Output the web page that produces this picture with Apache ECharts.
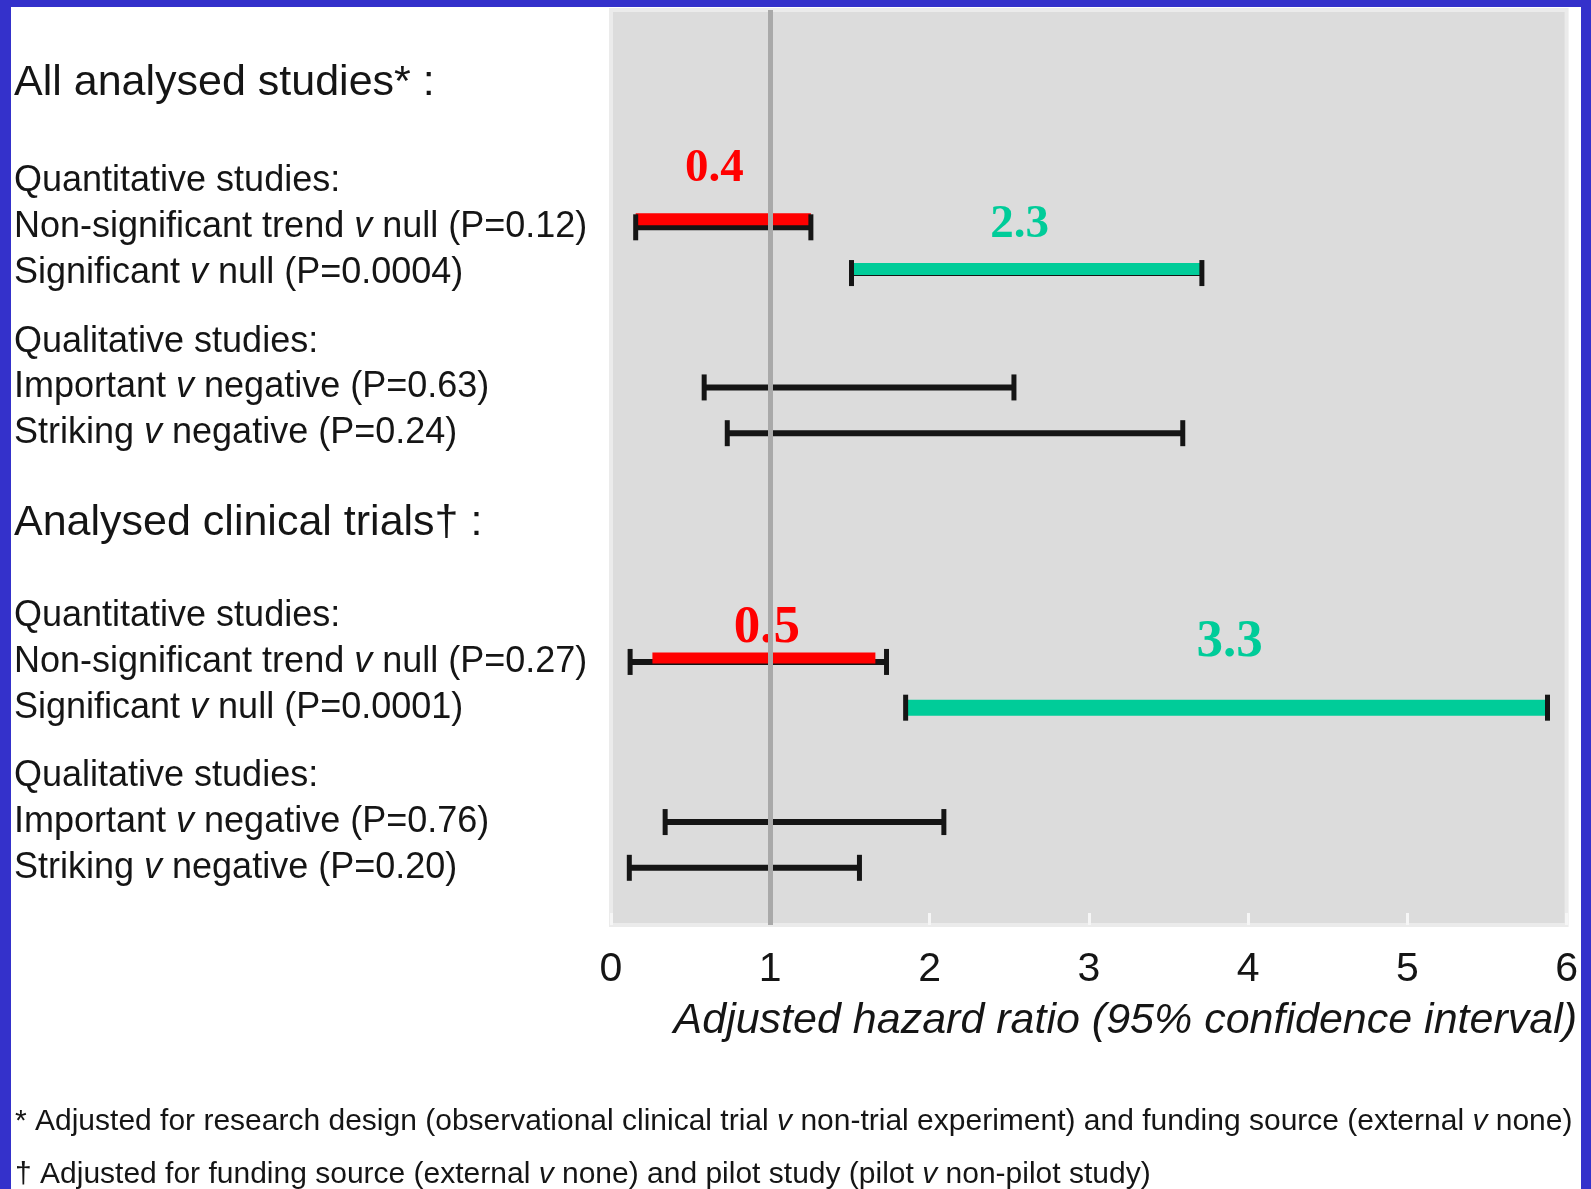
<!DOCTYPE html>
<html>
<head>
<meta charset="utf-8">
<script src="https://cdn.jsdelivr.net/npm/echarts@6/dist/echarts.min.js"></script>
<style>
  html, body { margin: 0; padding: 0; background: #fff; }
  #frame {
    position: absolute; left: 0; top: 0;
    width: 1570px; height: 1182px;
    border-top: 7px solid #3431cb;
    border-left: 11px solid #3431cb;
    border-right: 10px solid #3431cb;
    background: #fff;
    overflow: hidden;
  }
  #chart { width: 1570px; height: 1182px; }
</style>
</head>
<body>
<div id="frame"><div id="chart"></div></div>
<script>
// ---- data ----
const sectionHeaders = ['All analysed studies* :', 'Analysed clinical trials\u2020 :'];
const groupHeaders = ['Quantitative studies:', 'Qualitative studies:'];
const studies = [
  'Non-significant trend v null (P=0.12)',
  'Significant v null (P=0.0004)',
  'Important v negative (P=0.63)',
  'Striking v negative (P=0.24)',
  'Non-significant trend v null (P=0.27)',
  'Significant v null (P=0.0001)',
  'Important v negative (P=0.76)',
  'Striking v negative (P=0.20)'
];
// 95% confidence interval of the adjusted hazard ratio, one entry per study row
const ciLow  = [0.155, 1.51, 0.585, 0.73, 0.12, 1.85, 0.34, 0.115];
const ciHigh = [1.255, 3.71, 2.53, 3.59, 1.73, 5.88, 2.09, 1.56];
// highlighted rows with their stated hazard ratio
const highlightStudy = [0, 1, 4, 5];
const hazardRatio    = [0.4, 2.3, 0.5, 3.3];
const highlightLow   = [0.155, 1.51, 0.26, 1.85];
const highlightHigh  = [1.255, 3.71, 1.66, 5.88];
const xTicks = [0, 1, 2, 3, 4, 5, 6];
const nullRatio = 1;
const footnotes = [
  '* Adjusted for research design (observational clinical trial {i|v} non-trial experiment) and funding source (external {i|v} none)',
  '\u2020 Adjusted for funding source (external {i|v} none) and pilot study (pilot {i|v} non-pilot study)'
];

// ---- look ----
const SANS = '"Liberation Sans", Arial, Helvetica, sans-serif';
const SERIF = '"Liberation Serif", "Times New Roman", serif';
const INK = '#151515';
const highlightColor = ['#ff0000', '#00cc99', '#ff0000', '#00cc99'];
// bar thickness, upward shift of bar, label offset and label size
const highlightLook = [
  { thick: 12, lift: 8, dx: -9, dy: -58, size: 47 },
  { thick: 12, lift: 4, dx: -7, dy: -48, size: 47 },
  { thick: 11, lift: 4, dx: 3,  dy: -34, size: 53 },
  { thick: 16, lift: 0, dx: 3,  dy: -65, size: 53 }
];

// left column: [blank half-lines before, text]
const leftColumn = [
  [3, sectionHeaders[0]],
  [3, groupHeaders[0]],
  [1, studies[0]],
  [1, studies[1]],
  [2, groupHeaders[1]],
  [1, studies[2]],
  [1, studies[3]],
  [3, sectionHeaders[1]],
  [3, groupHeaders[0]],
  [1, studies[4]],
  [1, studies[5]],
  [2, groupHeaders[1]],
  [1, studies[6]],
  [1, studies[7]],
  [2, null]
];
const categories = [];
leftColumn.forEach(([gap, text]) => {
  for (let k = 0; k < gap; k++) categories.push('');
  if (text !== null) categories.push(text);
});
const rowOf = name => categories.indexOf(name);

const ciData = studies.map((s, i) => [ciLow[i], ciHigh[i], rowOf(s)]);
const hlData = highlightStudy.map((si, j) =>
  [highlightLow[j], highlightHigh[j], rowOf(studies[si]), hazardRatio[j], j]);

const lineStyle = { stroke: INK, lineWidth: 6 };

function renderWhisker(params, api) {
  const y = api.value(2);
  const a = api.coord([api.value(0), y]);
  const b = api.coord([api.value(1), y]);
  return {
    type: 'line',
    shape: { x1: a[0], y1: a[1], x2: b[0], y2: b[1] },
    style: lineStyle
  };
}

function renderCaps(params, api) {
  const y = api.value(2);
  const a = api.coord([api.value(0), y]);
  const b = api.coord([api.value(1), y]);
  const h = 13;
  const capStyle = { stroke: INK, lineWidth: 5 };
  return {
    type: 'group',
    children: [
      { type: 'line', shape: { x1: a[0], y1: a[1] - h, x2: a[0], y2: a[1] + h }, style: capStyle },
      { type: 'line', shape: { x1: b[0], y1: b[1] - h, x2: b[0], y2: b[1] + h }, style: capStyle }
    ]
  };
}

function renderHighlight(params, api) {
  const y = api.value(2);
  const j = api.value(4);
  const look = highlightLook[j];
  const a = api.coord([api.value(0), y]);
  const b = api.coord([api.value(1), y]);
  const cy = a[1] - look.lift;
  return {
    type: 'group',
    children: [
      {
        type: 'rect',
        shape: { x: a[0], y: cy - look.thick / 2, width: b[0] - a[0], height: look.thick },
        style: { fill: highlightColor[j] }
      },
      {
        type: 'text',
        x: (a[0] + b[0]) / 2 + look.dx,
        y: a[1] + look.dy,
        style: {
          text: api.value(3).toFixed(1),
          fill: highlightColor[j],
          fontFamily: SERIF,
          fontWeight: 'bold',
          fontSize: look.size,
          align: 'center',
          verticalAlign: 'middle'
        }
      }
    ]
  };
}

const chart = echarts.init(document.getElementById('chart'), null, { renderer: 'canvas' });

chart.setOption({
  animation: false,
  backgroundColor: '#fff',
  grid: {
    left: 599, right: 11, top: 3, bottom: 264,
    show: true, backgroundColor: '#dcdcdc', borderColor: '#ebebeb', borderWidth: 4
  },
  xAxis: {
    type: 'value',
    min: xTicks[0], max: xTicks[xTicks.length - 1], interval: 1,
    axisLine: { show: false },
    axisTick: { show: true, inside: true, length: 12, lineStyle: { color: '#f6f6f6', width: 3 } },
    splitLine: { show: false },
    axisLabel: {
      fontFamily: SANS, fontSize: 41, color: INK, margin: 45, verticalAlign: 'middle',
      showMinLabel: true, showMaxLabel: true
    },
    name: 'Adjusted hazard ratio (95% confidence interval)',
    nameLocation: 'middle',
    nameGap: 96,
    nameTextStyle: {
      fontFamily: SANS, fontStyle: 'italic', fontSize: 43, color: INK,
      verticalAlign: 'middle', padding: [0, 0, 0, 73]
    }
  },
  yAxis: {
    type: 'category',
    inverse: true,
    data: categories,
    axisLine: { show: false },
    axisTick: { show: false },
    splitLine: { show: false },
    axisLabel: {
      interval: 0,
      align: 'left',
      margin: 597,
      fontFamily: SANS,
      fontSize: 36,
      color: INK,
      formatter: function (value) {
        if (!value) return '';
        const h = sectionHeaders.indexOf(value);
        if (h >= 0) return '{h' + h + '|' + value + '}';
        return value.replace(' v ', ' {i|v} ');
      },
      rich: {
        h0: { fontFamily: SANS, fontSize: 43, color: INK, padding: [0, 0, 14, 0] },
        h1: { fontFamily: SANS, fontSize: 43, color: INK, padding: [0, 0, 4, 0] },
        i: { fontFamily: SANS, fontSize: 36, color: INK, fontStyle: 'italic' }
      }
    }
  },
  graphic: footnotes.map((t, k) => ({
    type: 'text',
    x: 4,
    y: 1115 + k * 53,
    style: {
      text: t,
      fontFamily: SANS,
      fontSize: 30,
      fill: INK,
      verticalAlign: 'middle',
      rich: { i: { fontFamily: SANS, fontSize: 30, fill: INK, fontStyle: 'italic' } }
    }
  })),
  series: [
    {
      name: 'null',
      type: 'line',
      data: [],
      z: 1,
      markLine: {
        silent: true,
        symbol: ['none', 'none'],
        label: { show: false },
        lineStyle: { color: '#a9a9a9', width: 5, type: 'solid' },
        data: [{ xAxis: nullRatio }]
      }
    },
    {
      name: 'ci',
      type: 'custom',
      z: 2,
      encode: { x: [0, 1], y: 2 },
      data: ciData,
      renderItem: renderWhisker
    },
    {
      name: 'highlight',
      type: 'custom',
      z: 3,
      encode: { x: [0, 1], y: 2 },
      data: hlData,
      renderItem: renderHighlight
    },
    {
      name: 'caps',
      type: 'custom',
      z: 4,
      encode: { x: [0, 1], y: 2 },
      data: ciData,
      renderItem: renderCaps
    }
  ]
});
</script>
</body>
</html>
